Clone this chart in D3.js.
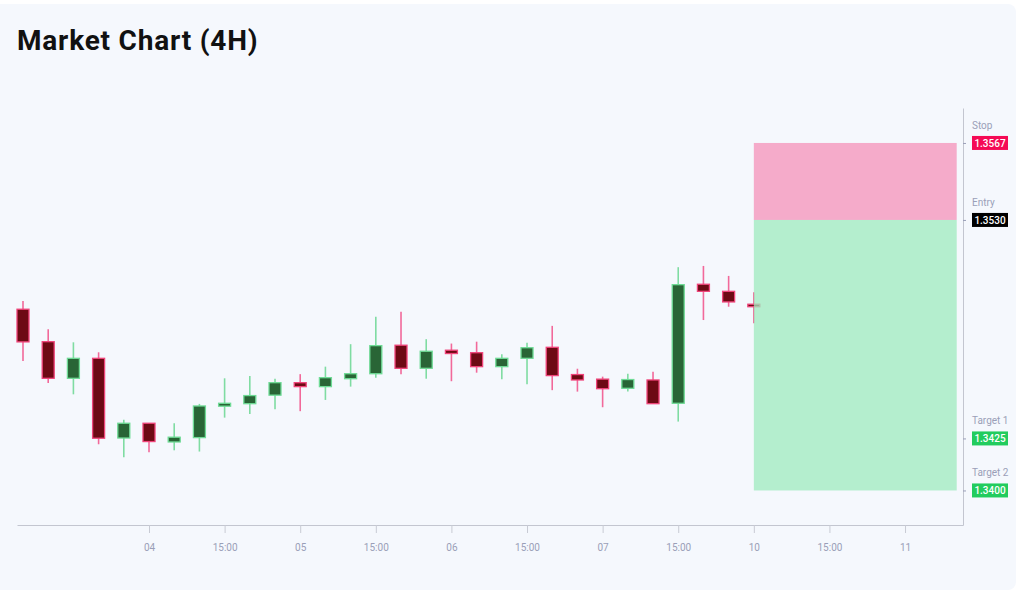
<!DOCTYPE html>
<html>
<head>
<meta charset="utf-8">
<script src="https://cdn.jsdelivr.net/npm/d3@7"></script>
<style>
  html, body { margin: 0; padding: 0; background: #ffffff; }
  svg { display: block; font-family: Roboto, "Noto Sans", sans-serif; }
</style>
</head>
<body>
<svg id="chart" width="1019" height="595"></svg>
<script>
// ---- data ----
const candleIndex = d3.range(30);
const opens  = [1.34871,1.34715,1.34539,1.34635,1.34252,1.34323,1.34233,1.34254,1.34405,1.34417,1.34458,1.34518,1.34499,1.34537,1.34561,1.34698,1.34587,1.34674,1.34662,1.34595,1.34635,1.34688,1.34557,1.34535,1.34491,1.34531,1.34419,1.34991,1.34957,1.34895];
const highs  = [1.34911,1.34775,1.34712,1.34664,1.34340,1.34323,1.34323,1.34416,1.34539,1.34550,1.34537,1.34559,1.34595,1.34703,1.34835,1.34859,1.34727,1.34706,1.34715,1.34655,1.34710,1.34791,1.34585,1.34547,1.34561,1.34571,1.35073,1.35079,1.35031,1.34953];
const lows   = [1.34622,1.34517,1.34462,1.34222,1.34160,1.34184,1.34193,1.34187,1.34350,1.34368,1.34390,1.34381,1.34435,1.34499,1.34542,1.34559,1.34537,1.34525,1.34566,1.34535,1.34511,1.34482,1.34475,1.34400,1.34475,1.34417,1.34331,1.34819,1.34883,1.34804];
const closes = [1.34714,1.34539,1.34635,1.34251,1.34323,1.34235,1.34256,1.34406,1.34419,1.34456,1.34518,1.34499,1.34542,1.34561,1.34696,1.34587,1.34669,1.34658,1.34595,1.34635,1.34686,1.34552,1.34531,1.34489,1.34533,1.34417,1.34989,1.34957,1.34906,1.34883];

const tickIndex  = [5, 8, 11, 14, 17, 20, 23, 26, 29, 32, 35];
const tickLabels = ["04","15:00","05","15:00","06","15:00","07","15:00","10","15:00","11"];

const levelNames  = ["Stop", "Entry", "Target 1", "Target 2"];
const levelValues = [1.3567, 1.3530, 1.3425, 1.3400];
const levelColors = ["#f50a55", "#000000", "#22cc5e", "#22cc5e"];

const zoneStartIndex = 29;
const zoneEndIndex = 37.05;

// ---- layout ----
const svg = d3.select("#chart");
const plotLeft = 17, plotRight = 963, plotTop = 108, plotBottom = 525;

const x = d3.scaleLinear().domain([-0.238, 37.3]).range([plotLeft, plotRight]);
const y = d3.scaleLinear().domain([1.33834, 1.35838]).range([plotBottom, plotTop]);

// card background
svg.append("rect")
  .attr("x", -8).attr("y", 4).attr("width", 1024).attr("height", 586)
  .attr("rx", 8).attr("fill", "#f5f8fd");

// title
svg.append("text")
  .attr("x", 17).attr("y", 50)
  .attr("font-size", 28).attr("font-weight", 700)
  .attr("letter-spacing", 0.8)
  .attr("fill", "#111111")
  .text("Market Chart (4H)");

// candles
const candles = candleIndex.map(i => ({i, o: opens[i], h: highs[i], l: lows[i], c: closes[i]}));
const bodyW = 12;
const g = svg.append("g");
const cg = g.selectAll("g.candle").data(candles).join("g").attr("class", "candle");
cg.append("line")
  .attr("x1", d => x(d.i)).attr("x2", d => x(d.i))
  .attr("y1", d => y(d.h)).attr("y2", d => y(d.l))
  .attr("stroke", d => d.c >= d.o ? "#7fdca2" : "#f2699a")
  .attr("stroke-width", 1.6);
cg.append("rect")
  .attr("x", d => x(d.i) - bodyW / 2)
  .attr("y", d => y(Math.max(d.o, d.c)))
  .attr("width", bodyW)
  .attr("height", d => Math.max(2, y(Math.min(d.o, d.c)) - y(Math.max(d.o, d.c))))
  .attr("fill", d => d.c >= d.o ? "#296536" : "#6d0a14")
  .attr("stroke", d => d.c >= d.o ? "#6fdb96" : "#f0447a")
  .attr("stroke-width", 1.3);

// trade zones (drawn over the candles, translucent)
svg.append("rect")
  .attr("x", x(zoneStartIndex)).attr("width", x(zoneEndIndex) - x(zoneStartIndex))
  .attr("y", y(levelValues[0])).attr("height", y(levelValues[1]) - y(levelValues[0]))
  .attr("fill", "rgb(244,145,184)").attr("opacity", 0.75);
svg.append("rect")
  .attr("x", x(zoneStartIndex)).attr("width", x(zoneEndIndex) - x(zoneStartIndex))
  .attr("y", y(levelValues[1])).attr("height", y(levelValues[3]) - y(levelValues[1]))
  .attr("fill", "rgb(157,235,189)").attr("opacity", 0.75);

// x axis
const xAxis = d3.axisBottom(x)
  .tickValues(tickIndex)
  .tickFormat((d, k) => tickLabels[k])
  .tickSize(8).tickPadding(11).tickSizeOuter(0);
const xg = svg.append("g").attr("transform", `translate(0,${plotBottom})`).call(xAxis);
xg.select(".domain").attr("stroke", "#c3c6d0").attr("stroke-width", 1);
xg.selectAll(".tick line").attr("stroke", "#c8cbd4");
xg.selectAll(".tick text").attr("fill", "#9a9fb8").attr("font-size", 10)
  .attr("font-family", "Roboto, sans-serif");

// right axis
const yAxis = d3.axisRight(y)
  .tickValues(levelValues)
  .tickFormat("")
  .tickSize(3).tickSizeOuter(0);
const yg = svg.append("g").attr("transform", `translate(${plotRight},0)`).call(yAxis);
yg.select(".domain").attr("stroke", "#c3c6d0").attr("stroke-width", 1);
yg.selectAll(".tick line").attr("stroke", "#9a9fb8");

// level labels
const lv = svg.append("g").selectAll("g").data(levelValues).join("g")
  .attr("transform", d => `translate(972,${y(d)})`);
lv.append("text")
  .attr("x", 0).attr("y", -14)
  .attr("font-size", 10).attr("fill", "#9a9fb8")
  .text((d, k) => levelNames[k]);
lv.append("rect")
  .attr("x", 0).attr("y", -7).attr("width", 36).attr("height", 14)
  .attr("fill", (d, k) => levelColors[k]);
lv.append("text")
  .attr("x", 18).attr("y", 3.6)
  .attr("text-anchor", "middle")
  .attr("font-size", 10).attr("font-weight", 500).attr("fill", "#ffffff")
  .text(d => d3.format(".4f")(d));
</script>
</body>
</html>
